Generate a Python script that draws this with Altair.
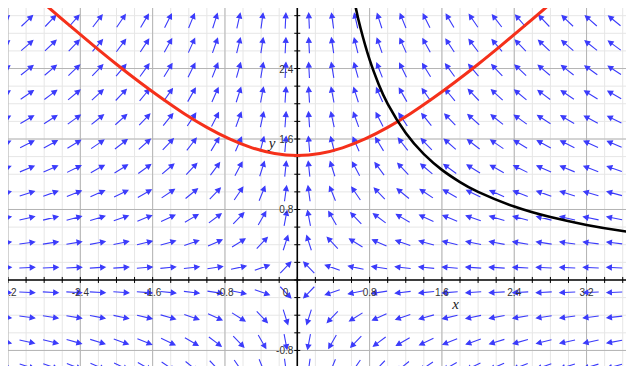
import math
import altair as alt
import pandas as pd

# ---------------- values ----------------
# centres of the direction-field arrows (columns / rows)
arrow_cols = [-3.25, -2.99, -2.73, -2.47, -2.21, -1.95, -1.69, -1.43, -1.17, -0.91,
              -0.65, -0.39, -0.13, 0.13, 0.39, 0.65, 0.91, 1.17, 1.43, 1.69, 1.95,
              2.21, 2.47, 2.73, 2.99, 3.25, 3.51, 3.77]
arrow_rows = [-0.98, -0.70, -0.42, -0.14, 0.14, 0.42, 0.70, 0.98, 1.26, 1.54,
              1.82, 2.10, 2.38, 2.66, 2.94, 3.22]

# red curve (y^2 - x^2 = 2)
red_x = [-3.0, -2.75, -2.5, -2.25, -2.0, -1.75, -1.5, -1.25, -1.0, -0.75, -0.5, -0.25, 0.0,
         0.25, 0.5, 0.75, 1.0, 1.25, 1.5, 1.75, 2.0, 2.25, 2.5, 2.75, 3.0]
red_y = [3.317, 3.092, 2.872, 2.658, 2.449, 2.25, 2.062, 1.887, 1.732, 1.601, 1.5, 1.436, 1.414,
         1.436, 1.5, 1.601, 1.732, 1.887, 2.062, 2.25, 2.449, 2.658, 2.872, 3.092, 3.317]

# black curve (x*y = 2)
black_x = [0.6, 0.65, 0.7, 0.8, 0.9, 1.0, 1.2, 1.4, 1.6, 1.8, 2.0, 2.4, 2.8, 3.2, 3.6, 4.0]
black_y = [3.333, 3.077, 2.857, 2.5, 2.222, 2.0, 1.667, 1.429, 1.25, 1.111, 1.0, 0.833,
           0.714, 0.625, 0.556, 0.5]

# tick labels
x_tick_vals = [-3.2, -2.4, -1.6, -0.8, 0.8, 1.6, 2.4, 3.2]
x_tick_text = ["-3.2", "-2.4", "-1.6", "-0.8", "0.8", "1.6", "2.4", "3.2"]
y_tick_vals = [-0.8, 0.8, 1.6, 2.4]
y_tick_text = ["-0.8", "0.8", "1.6", "2.4"]

minor_x = [round(-3.2 + 0.2 * i, 1) for i in range(36)]
minor_y = [round(-1.0 + 0.2 * i, 1) for i in range(21)]
major_x = [-3.2, -2.4, -1.6, -0.8, 0.8, 1.6, 2.4, 3.2]
major_y = [-0.8, 0.8, 1.6, 2.4]

# ---------------- layout ----------------
W, H = 618, 358
PX_X, PX_Y = 90.4, 88.1          # pixels per unit, as measured
XD = [-3.2, -3.2 + W / PX_X]
YD = [3.087 - H / PX_Y, 3.087]
sx = W / (XD[1] - XD[0])
sy = H / (YD[1] - YD[0])

xs = alt.Scale(domain=XD, nice=False, zero=False)
ys = alt.Scale(domain=YD, nice=False, zero=False)

# field (-x, y): arrow angle clockwise from "up" in pixel space
rows = []
for yv in arrow_rows:
    for xv in arrow_cols:
        u, v = -xv, yv
        ang = math.degrees(math.atan2(u * sx, v * sy)) % 360
        rows.append({"x": xv, "y": yv, "angle": ang})
arrows_df = pd.DataFrame(rows)

red_df = pd.DataFrame({"x": red_x, "y": red_y})
black_df = pd.DataFrame({"x": black_x, "y": black_y})

X = lambda f="x": alt.X(f"{f}:Q", scale=xs, axis=None)
Y = lambda f="y": alt.Y(f"{f}:Q", scale=ys, axis=None)

grid_minor_v = alt.Chart(pd.DataFrame({"x": minor_x})).mark_rule(
    color="#e6e6e6", strokeWidth=1).encode(x=X())
grid_minor_h = alt.Chart(pd.DataFrame({"y": minor_y})).mark_rule(
    color="#e6e6e6", strokeWidth=1).encode(y=Y())
grid_major_v = alt.Chart(pd.DataFrame({"x": major_x})).mark_rule(
    color="#b4b4b4", strokeWidth=1).encode(x=X())
grid_major_h = alt.Chart(pd.DataFrame({"y": major_y})).mark_rule(
    color="#b4b4b4", strokeWidth=1).encode(y=Y())

arrow_path = "M0,1L0,-0.5M0,-1L-0.3,-0.42L0.3,-0.42Z"
arrows = alt.Chart(arrows_df).mark_point(
    shape=arrow_path, size=235, filled=True, color="#3b3bfb",
    stroke="#3b3bfb", strokeWidth=1.1, opacity=1, clip=True
).encode(x=X(), y=Y(), angle=alt.Angle("angle:Q", scale=None))

axis_x = alt.Chart(pd.DataFrame({"y": [0]})).mark_rule(color="black", strokeWidth=1.6).encode(y=Y())
axis_y = alt.Chart(pd.DataFrame({"x": [0]})).mark_rule(color="black", strokeWidth=1.6).encode(x=X())

tx = alt.Chart(pd.DataFrame({"x": minor_x, "y": [0] * len(minor_x)})).mark_point(
    shape="M0,-1L0,1", size=36, filled=False, color="black", strokeWidth=1, opacity=1
).encode(x=X(), y=Y())
ty = alt.Chart(pd.DataFrame({"y": minor_y, "x": [0] * len(minor_y)})).mark_point(
    shape="M-1,0L1,0", size=36, filled=False, color="black", strokeWidth=1, opacity=1
).encode(x=X(), y=Y())

red = alt.Chart(red_df).mark_line(color="#f5301a", strokeWidth=3, interpolate="natural",
                                  clip=True).encode(x=X(), y=Y(), order="x:Q")
black = alt.Chart(black_df).mark_line(color="black", strokeWidth=2.6, interpolate="natural",
                                      clip=True).encode(x=X(), y=Y(), order="x:Q")

xl = alt.Chart(pd.DataFrame({"x": x_tick_vals, "t": x_tick_text, "y": [0] * 8})).mark_text(
    font="Liberation Sans", fontSize=10, color="#333333", align="center", baseline="middle", dy=13
).encode(x=X(), y=Y(), text="t:N")
yl = alt.Chart(pd.DataFrame({"y": y_tick_vals, "t": y_tick_text, "x": [0] * 4})).mark_text(
    font="Liberation Sans", fontSize=10, color="#333333", align="right", baseline="middle", dx=-4, dy=1
).encode(x=X(), y=Y(), text="t:N")
zero_l = alt.Chart(pd.DataFrame({"x": [0], "y": [0], "t": ["0"]})).mark_text(
    font="Liberation Sans", fontSize=10, color="#333333", align="right", baseline="middle", dx=-9, dy=13
).encode(x=X(), y=Y(), text="t:N")

xlab = alt.Chart(pd.DataFrame({"x": [1.75], "y": [-0.27], "t": ["x"]})).mark_text(
    font="Liberation Serif", fontStyle="italic", fontSize=15, color="#222222"
).encode(x=X(), y=Y(), text="t:N")
ylab = alt.Chart(pd.DataFrame({"x": [-0.28], "y": [1.55], "t": ["y"]})).mark_text(
    font="Liberation Serif", fontStyle="italic", fontSize=15, color="#222222"
).encode(x=X(), y=Y(), text="t:N")

chart = alt.layer(
    grid_minor_v, grid_minor_h, grid_major_v, grid_major_h,
    arrows, axis_x, axis_y, tx, ty, red, black, xl, yl, zero_l, xlab, ylab
).properties(width=W, height=H, padding=0, autosize="none", background="white"
).configure_view(stroke=None)

chart.save("out.html", embed_options={"renderer": "svg", "actions": False})
